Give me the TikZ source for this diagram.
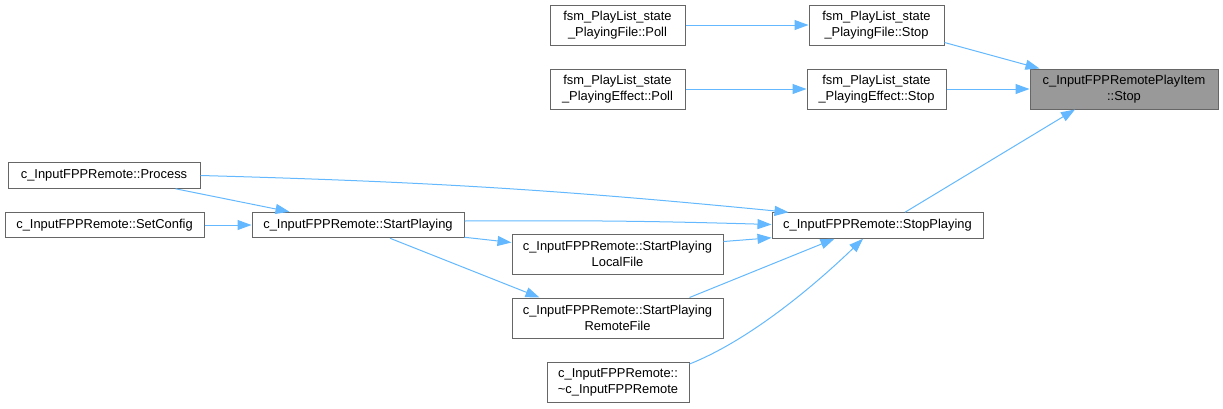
\documentclass[tikz,border=0pt]{standalone}
\usepackage{fontspec}
\setmainfont{Liberation Sans}
\usepackage{tikz}
\usetikzlibrary{shapes,arrows,arrows.meta,positioning}
\definecolor{edgeblue}{HTML}{63B8FF}
\definecolor{boxline}{HTML}{666666}
\definecolor{targetfill}{HTML}{999999}

\begin{document}
\begin{tikzpicture}[
    x=1pt, y=-1pt,
    every node/.style={draw=boxline, line width=1pt, fill=white, inner sep=0pt, minimum height=40pt, align=center, font=\fontsize{12.9}{16}\selectfont},
    oneline/.style={minimum height=25.5pt},
    arrow/.style={-{Triangle[length=14pt,width=10pt,fill=edgeblue]}, draw=edgeblue, line width=1pt}
]
\useasboundingbox (0,0) rectangle (1223,408);

\node (pfpoll) [minimum width=135pt] at (617.5,25) {fsm\_PlayList\_state\\\_PlayingFile::Poll};
\node (pfstop) [minimum width=135pt] at (876.5,25) {fsm\_PlayList\_state\\\_PlayingFile::Stop};
\node (pepoll) [minimum width=135pt] at (617.5,89) {fsm\_PlayList\_state\\\_PlayingEffect::Poll};
\node (pestop) [minimum width=139pt] at (876.5,89) {fsm\_PlayList\_state\\\_PlayingEffect::Stop};
\node (target) [minimum width=188pt, fill=targetfill] at (1124,89) {c\_InputFPPRemotePlayItem\\::Stop};

\node (process) [oneline, minimum width=192pt] at (104,175.5) {c\_InputFPPRemote::Process};
\node (setconfig) [oneline, minimum width=199pt] at (104.5,225) {c\_InputFPPRemote::SetConfig};
\node (startplaying) [oneline, minimum width=212pt] at (358,225) {c\_InputFPPRemote::StartPlaying};
\node (stopplaying) [oneline, minimum width=211pt] at (877.5,225.5) {c\_InputFPPRemote::StopPlaying};
\node (localfile) [minimum width=211pt] at (617.5,254) {c\_InputFPPRemote::StartPlaying\\LocalFile};
\node (remotefile) [minimum width=211pt] at (617.5,318) {c\_InputFPPRemote::StartPlaying\\RemoteFile};
\node (destructor) [minimum width=142pt] at (618,382.5) {c\_InputFPPRemote::\\\textasciitilde c\_InputFPPRemote};

\draw[arrow] (pfpoll) -- (pfstop);
\draw[arrow] (pepoll) -- (pestop);
\draw[arrow] ([yshift=3pt]pfstop.south east) -- ([xshift=10pt]target.north west);
\draw[arrow] (pestop) -- (target);
\draw[arrow] ([xshift=27.5pt]stopplaying.north) -- ([xshift=-49pt]target.south);
\draw[arrow] (process.east) to[bend left=2] ([xshift=17pt]stopplaying.north west);
\draw[arrow] ([xshift=-25pt]process.south east) -- ([xshift=38pt]startplaying.north west);
\draw[arrow] (setconfig) -- (startplaying);
\draw[arrow] ([yshift=4pt]startplaying.east) to[bend left=1] ([yshift=1pt]stopplaying.west);
\draw[arrow] ([yshift=1pt]startplaying.south east) -- ([yshift=-9pt]localfile.north west);
\draw[arrow] ([xshift=32pt]startplaying.south) -- ([xshift=28pt]remotefile.north west);
\draw[arrow] ([yshift=-8pt]localfile.north east) -- ([yshift=1pt]stopplaying.south west);
\draw[arrow] ([xshift=-34pt]remotefile.north east) -- ([xshift=63pt]stopplaying.south west);
\draw[arrow] ([yshift=-2pt]destructor.north east) .. controls (750,340) and (815,285) .. ([xshift=-14.5pt]stopplaying.south);
\end{tikzpicture}
\end{document}
